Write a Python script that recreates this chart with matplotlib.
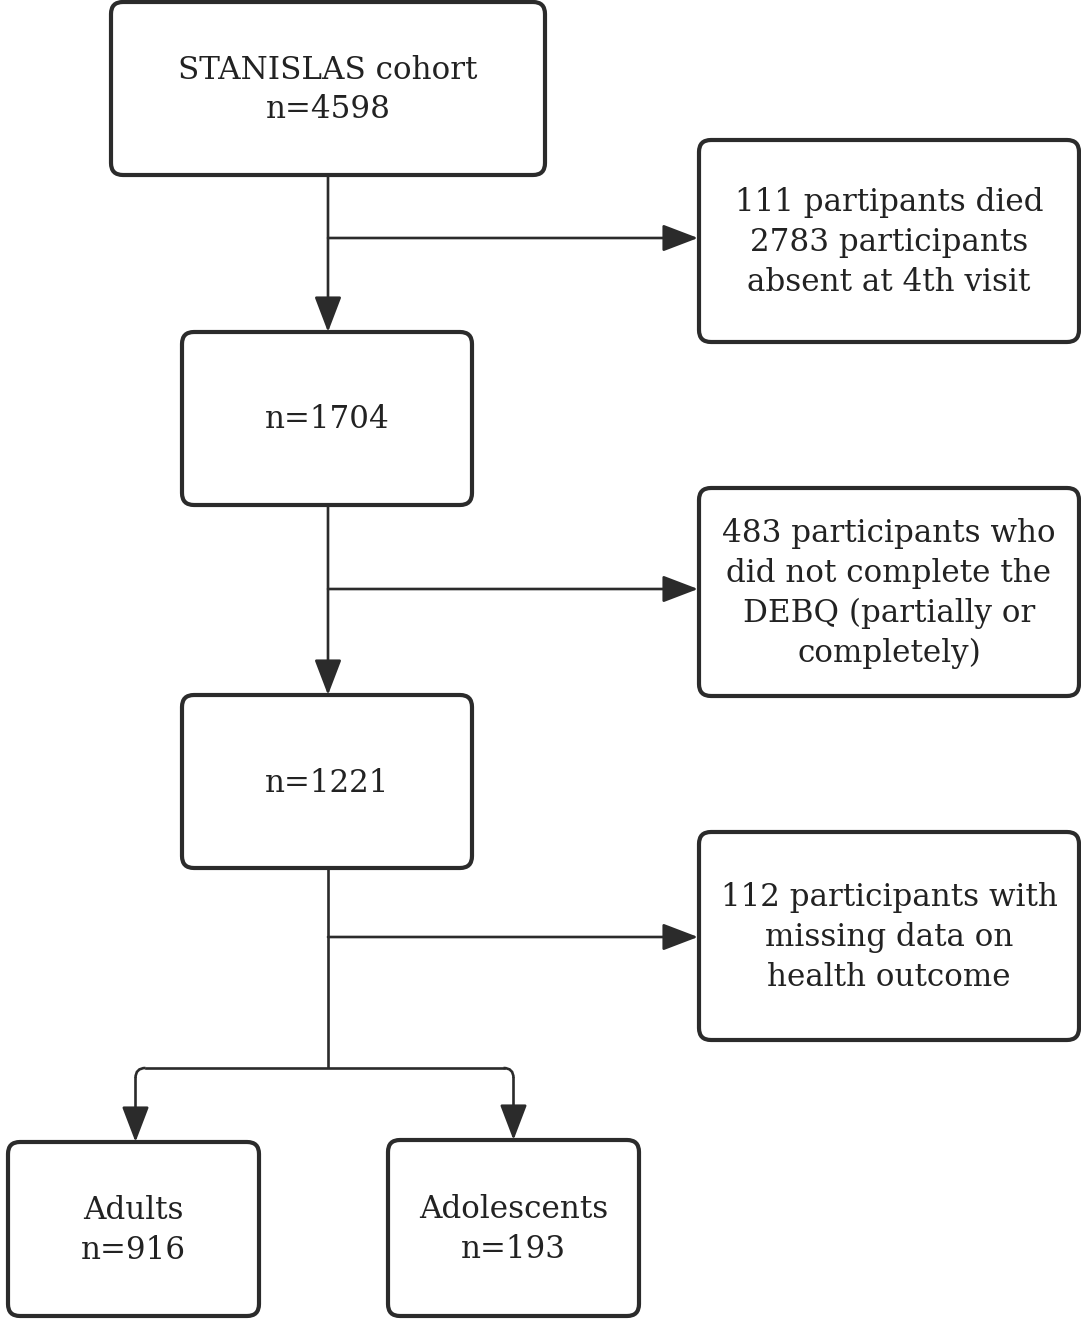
import matplotlib
matplotlib.use("Agg")
import matplotlib.pyplot as plt
from matplotlib.patches import FancyBboxPatch, FancyArrowPatch, PathPatch
from matplotlib.path import Path

# ---- content ----
main_labels = ["STANISLAS cohort\nn=4598", "n=1704", "n=1221"]
excluded_labels = [
    "111 partipants died\n2783 participants\nabsent at 4th visit",
    "483 participants who\ndid not complete the\nDEBQ (partially or\ncompletely)",
    "112 participants with\nmissing data on\nhealth outcome",
]
final_labels = ["Adults\nn=916", "Adolescents\nn=193"]

# ---- layout (pixel coordinates, y down) ----
W, H = 1081, 1319
main_boxes = [(111, 2, 545, 175), (182, 332, 472, 505), (182, 695, 472, 868)]
side_boxes = [(699, 140, 1079, 342), (699, 488, 1079, 696), (699, 832, 1079, 1040)]
final_boxes = [(8, 1142, 259, 1316), (388, 1140, 639, 1316)]
branch_y = [238, 589, 937]
spine_x = 328
split_y = 1068

EDGE = "#2b2b2b"
FONT = "DejaVu Serif"
FS = 22.3
LW = 1.9

fig = plt.figure(figsize=(W / 100, H / 100), dpi=100)
ax = fig.add_axes([0, 0, 1, 1])
ax.set_xlim(0, W)
ax.set_ylim(H, 0)
ax.axis("off")


def box(b, text, lw=3.0):
    x0, y0, x1, y1 = b
    r = 12
    p = FancyBboxPatch((x0 + r, y0 + r), (x1 - x0) - 2 * r, (y1 - y0) - 2 * r,
                       boxstyle=f"round,pad={r},rounding_size={r}",
                       fc="white", ec=EDGE, lw=lw, zorder=3)
    ax.add_patch(p)
    ax.text((x0 + x1) / 2, (y0 + y1) / 2 + 1.5, text, ha="center", va="center",
            fontsize=FS, family=FONT, color="#222222", linespacing=1.37, zorder=4)


def arrow(x0, y0, x1, y1):
    a = FancyArrowPatch((x0, y0), (x1, y1), arrowstyle="-|>,head_length=1.1,head_width=0.42",
                        mutation_scale=20, lw=LW, color=EDGE, shrinkA=0, shrinkB=0, zorder=2)
    ax.add_patch(a)


for b, t in zip(main_boxes, main_labels):
    box(b, t)
for b, t in zip(side_boxes, excluded_labels):
    box(b, t)
for b, t in zip(final_boxes, final_labels):
    box(b, t)

# vertical arrows between main boxes
for i in range(2):
    arrow(spine_x, main_boxes[i][3], spine_x, main_boxes[i + 1][1])
# side arrows
for y, sb in zip(branch_y, side_boxes):
    arrow(spine_x, y, sb[0] - 1, y)
# last spine segment to split
ax.plot([spine_x, spine_x], [main_boxes[2][3], split_y], color=EDGE, lw=LW, zorder=2,
        solid_capstyle="butt")
# split with rounded corners
lx = (final_boxes[0][0] + final_boxes[0][2]) / 2 + 2
rx = (final_boxes[1][0] + final_boxes[1][2]) / 2
rc = 10
ax.plot([lx + rc, rx - rc], [split_y, split_y], color=EDGE, lw=LW, zorder=2)
for cx, sgn, fb in [(lx, 1, final_boxes[0]), (rx, -1, final_boxes[1])]:
    verts = [(cx + sgn * rc, split_y), (cx, split_y), (cx, split_y + rc)]
    ax.add_patch(PathPatch(Path(verts, [Path.MOVETO, Path.CURVE3, Path.CURVE3]),
                           fill=False, ec=EDGE, lw=LW, zorder=2))
    arrow(cx, split_y + rc, cx, fb[1])

fig.savefig("out.png", dpi=100, facecolor="white")
